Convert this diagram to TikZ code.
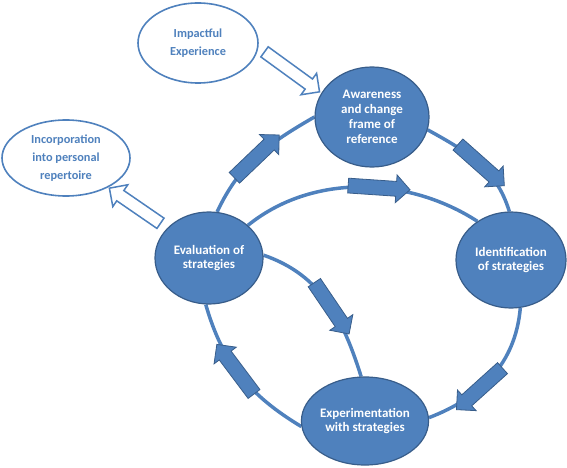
\documentclass[tikz,border=0pt]{standalone}
\usepackage{fontspec}
\setmainfont{Carlito}
\usetikzlibrary{shapes.geometric,shapes.arrows,backgrounds}
\definecolor{accent}{RGB}{79,129,189}
\definecolor{accentdark}{RGB}{56,93,138}
\definecolor{textblue}{RGB}{79,129,189}
\begin{document}
\begin{tikzpicture}[x=1pt,y=1pt,
  stage/.style={ellipse, fill=accent, draw=accentdark, line width=1.2pt, inner sep=0pt, align=center, text=white, font=\bfseries\fontsize{13}{14.8}\selectfont},
  outerstage/.style={ellipse, fill=white, draw=accent, line width=1.6pt, inner sep=0pt, align=center, text=textblue, font=\bfseries\fontsize{12.3}{18}\selectfont},
  conn/.style={draw=accent, line width=3.5pt},
  flow/.style={single arrow, fill=accent, draw=accentdark, line width=0.8pt, inner xsep=0pt, inner ysep=7pt, minimum height=62pt, minimum width=27pt, single arrow head extend=6.5pt, sloped, allow upside down},
  hollow/.style={single arrow, fill=white, draw=accent, line width=1.5pt, inner xsep=0pt, inner ysep=5.5pt, minimum width=25pt, single arrow head extend=7pt}
]
\useasboundingbox (0,0) rectangle (567,467);

\node[outerstage, minimum width=120pt, minimum height=80pt] (imp) at (198,424) {Impactful\\Experience};
\node[outerstage, minimum width=128pt, minimum height=76pt] (inc) at (66,309) {Incorporation\\into personal\\repertoire};
\node[stage, minimum width=114pt, minimum height=100pt] (aware) at (372,350) {Awareness\\and change\\frame of\\reference};
\node[stage, minimum width=108pt, minimum height=92pt] (eval) at (209,209) {Evaluation of\\strategies};
\node[stage, minimum width=110pt, minimum height=96pt] (ident) at (511,207) {Identification\\of strategies};
\node[stage, minimum width=120pt, minimum height=88pt] (exper) at (365,46) {Experimentation\\with strategies};

\node[hollow, minimum height=68pt, rotate=-36] (h1) at (289.5,397) {};
\node[hollow, minimum height=62pt, rotate=145.5] (h2) at (137.5,259.5) {};

\begin{pgfonlayer}{background}
\draw[conn] (eval.80) to[out=65, in=210] node[flow, pos=0.47] (f1) {} (aware.180);
\draw[conn] (aware.-13) to[out=-29, in=107] node[flow, pos=0.5] (f2) {} (ident.92);
\draw[conn] (ident.-79) to[out=-95, in=21] node[flow, pos=0.6] (f3) {} (exper.3);
\draw[conn] (exper.185) to[out=149, in=-74] node[flow, pos=0.53] (f4) {} (eval.-94);
\draw[conn] (eval.40) to[out=39, in=147, looseness=0.92] node[flow, pos=0.56] (f5) {} (ident.131);
\draw[conn] (eval.3) to[out=-19, in=107.5] node[flow, pos=0.53] (f6) {} (exper.95);
\end{pgfonlayer}
\end{tikzpicture}
\end{document}
